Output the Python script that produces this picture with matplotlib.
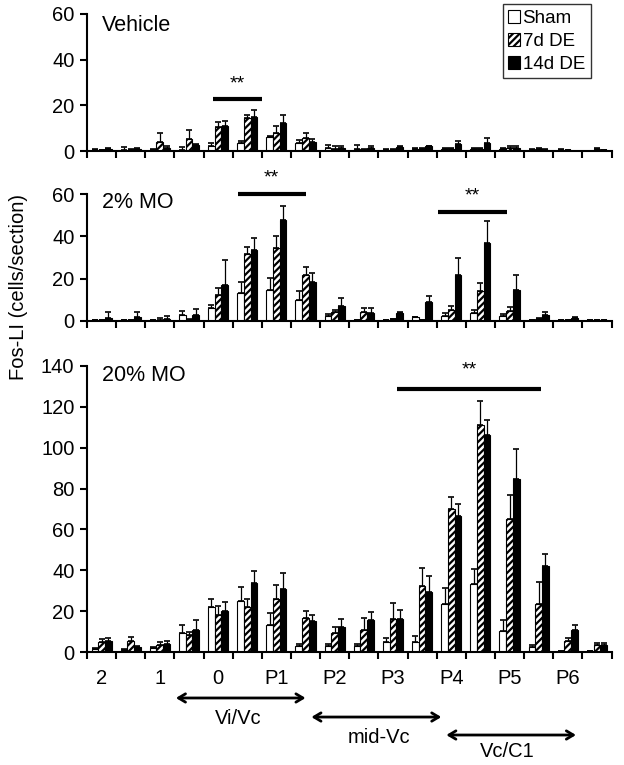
import numpy as np
import matplotlib.pyplot as plt

plt.rcParams['font.family'] = ['Liberation Sans', 'DejaVu Sans']
plt.rcParams['hatch.linewidth'] = 1.6

groups = np.arange(18)
xlabels = ['2', '1', '0', 'P1', 'P2', 'P3', 'P4', 'P5', 'P6']
series = ['Sham', '7d DE', '14d DE']

# Vehicle
veh_sham = [0.5, 0.3, 0.3, 0.3, 2.4, 3.7, 6.0, 3.7, 1.5, 1.0, 0.5, 1.0, 1.0, 1.0, 1.0, 0.5, 0.5, 0.0]
veh_sham_err = [0.5, 1.5, 0.5, 1.5, 1.3, 0.5, 0.6, 1.2, 1.0, 1.5, 0.3, 0.3, 0.3, 0.3, 0.3, 0.3, 0.3, 0.0]
veh_7d = [0.3, 0.5, 4.1, 5.1, 10.7, 14.4, 8.1, 5.9, 1.0, 0.5, 0.5, 1.0, 1.0, 1.0, 1.5, 1.0, 0.3, 1.0]
veh_7d_err = [0.2, 0.3, 3.7, 4.2, 1.8, 1.3, 2.9, 2.2, 1.0, 0.5, 0.3, 0.5, 0.5, 0.5, 0.5, 0.3, 0.2, 0.3]
veh_14d = [0.8, 0.8, 1.2, 2.6, 11.0, 15.1, 12.2, 3.8, 1.5, 1.5, 1.9, 2.0, 3.0, 3.5, 1.5, 0.5, 0.0, 0.3]
veh_14d_err = [0.3, 0.3, 1.2, 0.5, 2.0, 2.7, 3.7, 1.3, 0.5, 0.5, 0.3, 0.4, 1.5, 2.0, 0.5, 0.2, 0.0, 0.2]

# 2% MO
mo2_sham = [0.5, 0.3, 0.3, 2.8, 6.0, 13.4, 14.7, 10.1, 2.5, 0.5, 0.5, 1.7, 2.5, 4.0, 2.5, 0.5, 0.3, 0.3]
mo2_sham_err = [0.2, 0.2, 0.2, 2.1, 1.7, 4.8, 5.8, 4.1, 0.6, 0.2, 0.2, 0.3, 1.1, 1.0, 1.0, 0.2, 0.2, 0.1]
mo2_7d = [0.3, 0.5, 0.5, 0.5, 12.2, 31.6, 34.4, 21.8, 4.4, 4.4, 0.8, 0.5, 5.2, 14.4, 4.9, 1.0, 0.3, 0.3]
mo2_7d_err = [0.2, 0.2, 1.0, 0.3, 3.3, 3.2, 5.6, 3.6, 0.8, 1.6, 0.3, 0.2, 2.1, 3.5, 1.9, 0.5, 0.2, 0.1]
mo2_14d = [1.6, 1.7, 0.8, 2.7, 17.1, 33.6, 47.9, 18.5, 7.3, 3.6, 3.6, 9.2, 21.8, 36.8, 14.7, 2.8, 1.6, 0.3]
mo2_14d_err = [2.8, 2.4, 1.6, 2.8, 11.5, 5.7, 6.6, 4.2, 3.4, 2.4, 0.5, 2.6, 7.9, 10.3, 7.1, 1.6, 0.4, 0.1]

# 20% MO
mo20_sham = [1.5, 1.0, 2.0, 9.5, 22.0, 25.0, 13.0, 3.0, 2.8, 2.8, 4.9, 4.9, 23.7, 33.5, 10.3, 2.5, 0.3, 0.5]
mo20_sham_err = [0.5, 0.3, 0.5, 3.5, 4.0, 7.0, 6.0, 0.8, 1.2, 1.0, 2.0, 3.1, 7.8, 7.2, 5.5, 0.8, 0.2, 0.2]
mo20_7d = [5.0, 5.5, 3.5, 8.5, 18.0, 22.0, 26.0, 16.5, 9.3, 11.0, 16.2, 32.2, 69.8, 111.0, 65.0, 23.7, 5.2, 3.6]
mo20_7d_err = [1.5, 2.0, 1.5, 1.5, 4.5, 4.0, 7.0, 3.5, 2.7, 5.7, 7.7, 8.8, 6.2, 12.0, 12.0, 10.8, 1.7, 0.8]
mo20_14d = [5.5, 2.5, 4.0, 11.0, 20.0, 34.0, 31.0, 15.0, 12.3, 15.5, 16.2, 29.6, 66.7, 106.4, 84.8, 42.2, 10.6, 3.6]
mo20_14d_err = [1.5, 0.3, 1.5, 4.5, 4.5, 5.5, 7.5, 3.0, 3.7, 3.9, 4.2, 7.7, 5.8, 7.0, 14.4, 5.7, 2.4, 0.8]

panels = [
    ('Vehicle', [veh_sham, veh_7d, veh_14d], [veh_sham_err, veh_7d_err, veh_14d_err]),
    ('2% MO', [mo2_sham, mo2_7d, mo2_14d], [mo2_sham_err, mo2_7d_err, mo2_14d_err]),
    ('20% MO', [mo20_sham, mo20_7d, mo20_14d], [mo20_sham_err, mo20_7d_err, mo20_14d_err]),
]

fig = plt.figure(figsize=(6.24, 7.65), dpi=100)
left, width = 0.1394, 0.8406
ax1 = fig.add_axes([left, 0.8026, width, 0.1791])
ax2 = fig.add_axes([left, 0.5804, width, 0.1660])
ax3 = fig.add_axes([left, 0.1477, width, 0.3739])
axes = [ax1, ax2, ax3]
ylims = [60, 60, 140]
title_y = [0.915, 0.93, 0.967]
fs = 14.5

w = 0.23
styles = [dict(color='white', edgecolor='black', hatch=None),
          dict(color='white', edgecolor='black', hatch='/////'),
          dict(color='black', edgecolor='black', hatch=None)]

for ax, (title, vals, errs), ymax, ty in zip(axes, panels, ylims, title_y):
    for i in range(3):
        xs = groups + (i - 1) * w
        ax.bar(xs, vals[i], width=w, linewidth=0.8, label=series[i], zorder=2, **styles[i])
        ax.errorbar(xs, vals[i], yerr=[np.zeros(18), errs[i]], fmt='none', ecolor='black',
                    elinewidth=0.9, capsize=2.5, capthick=1.2, zorder=1)
    ax.set_xlim(-0.5, 17.5)
    ax.set_ylim(0, ymax)
    ax.set_yticks(np.arange(0, ymax + 1, 20))
    for s in ['top', 'right']:
        ax.spines[s].set_visible(False)
    for s in ['left', 'bottom']:
        ax.spines[s].set_linewidth(1.5)
    ax.set_xticks(np.arange(-0.5, 18, 1), minor=True)
    ax.tick_params(axis='x', which='minor', length=5, width=1.5, direction='out')
    ax.tick_params(axis='y', length=5, width=1.5, labelsize=fs, direction='out', pad=4)
    ax.tick_params(axis='x', which='major', length=0, labelsize=fs, pad=12)
    ax.set_xticks(groups[::2])
    if ax is ax3:
        ax.set_xticklabels(xlabels)
    else:
        ax.set_xticklabels([])
    ax.text(0.029, ty, title, transform=ax.transAxes, fontsize=15.5, va='center', ha='left')

# significance bars
def sig(ax, x0, x1, y, ys):
    ax.plot([x0, x1], [y, y], color='black', lw=3, clip_on=False, solid_capstyle='butt')
    ax.text((x0 + x1) / 2, ys, '**', ha='center', va='center', fontsize=14, clip_on=False)

sig(ax1, 3.82, 5.5, 22.9, 29.5)
sig(ax2, 4.67, 7.0, 60.0, 67.5)
sig(ax2, 11.55, 13.9, 51.6, 59.0)
sig(ax3, 10.15, 15.08, 128.7, 138.0)

fig.text(0.029, 0.625, 'Fos-LI (cells/section)', rotation=90, ha='center', va='center', fontsize=fs)

leg = ax1.legend(loc='upper right', bbox_to_anchor=(0.96, 1.07), fontsize=13.5,
                 frameon=True, fancybox=False, edgecolor='black', handlelength=0.6,
                 handleheight=0.7, handletextpad=0.15, borderpad=0.3, labelspacing=0.3,
                 borderaxespad=0)
leg.get_frame().set_linewidth(1.0)

# region arrows under the x axis
arrows = [('Vi/Vc', 2.55, 7.0, 0.0876, 4.7, 0.0614),
          ('mid-Vc', 7.2, 11.66, 0.0627, 9.53, 0.0366),
          ('Vc/C1', 11.83, 16.28, 0.0392, 13.92, 0.017)]
for name, xa, xb, ya, xt, yt in arrows:
    ax3.annotate('', xy=(xa, ya), xytext=(xb, ya), xycoords=('data', 'figure fraction'),
                 textcoords=('data', 'figure fraction'),
                 arrowprops=dict(arrowstyle='<->,head_length=0.5,head_width=0.3', lw=2, color='black',
                                 shrinkA=0, shrinkB=0))
    ax3.annotate(name, xy=(xt, yt), xycoords=('data', 'figure fraction'), ha='center', va='center',
                 fontsize=fs)

fig.savefig('out.png', dpi=100)
